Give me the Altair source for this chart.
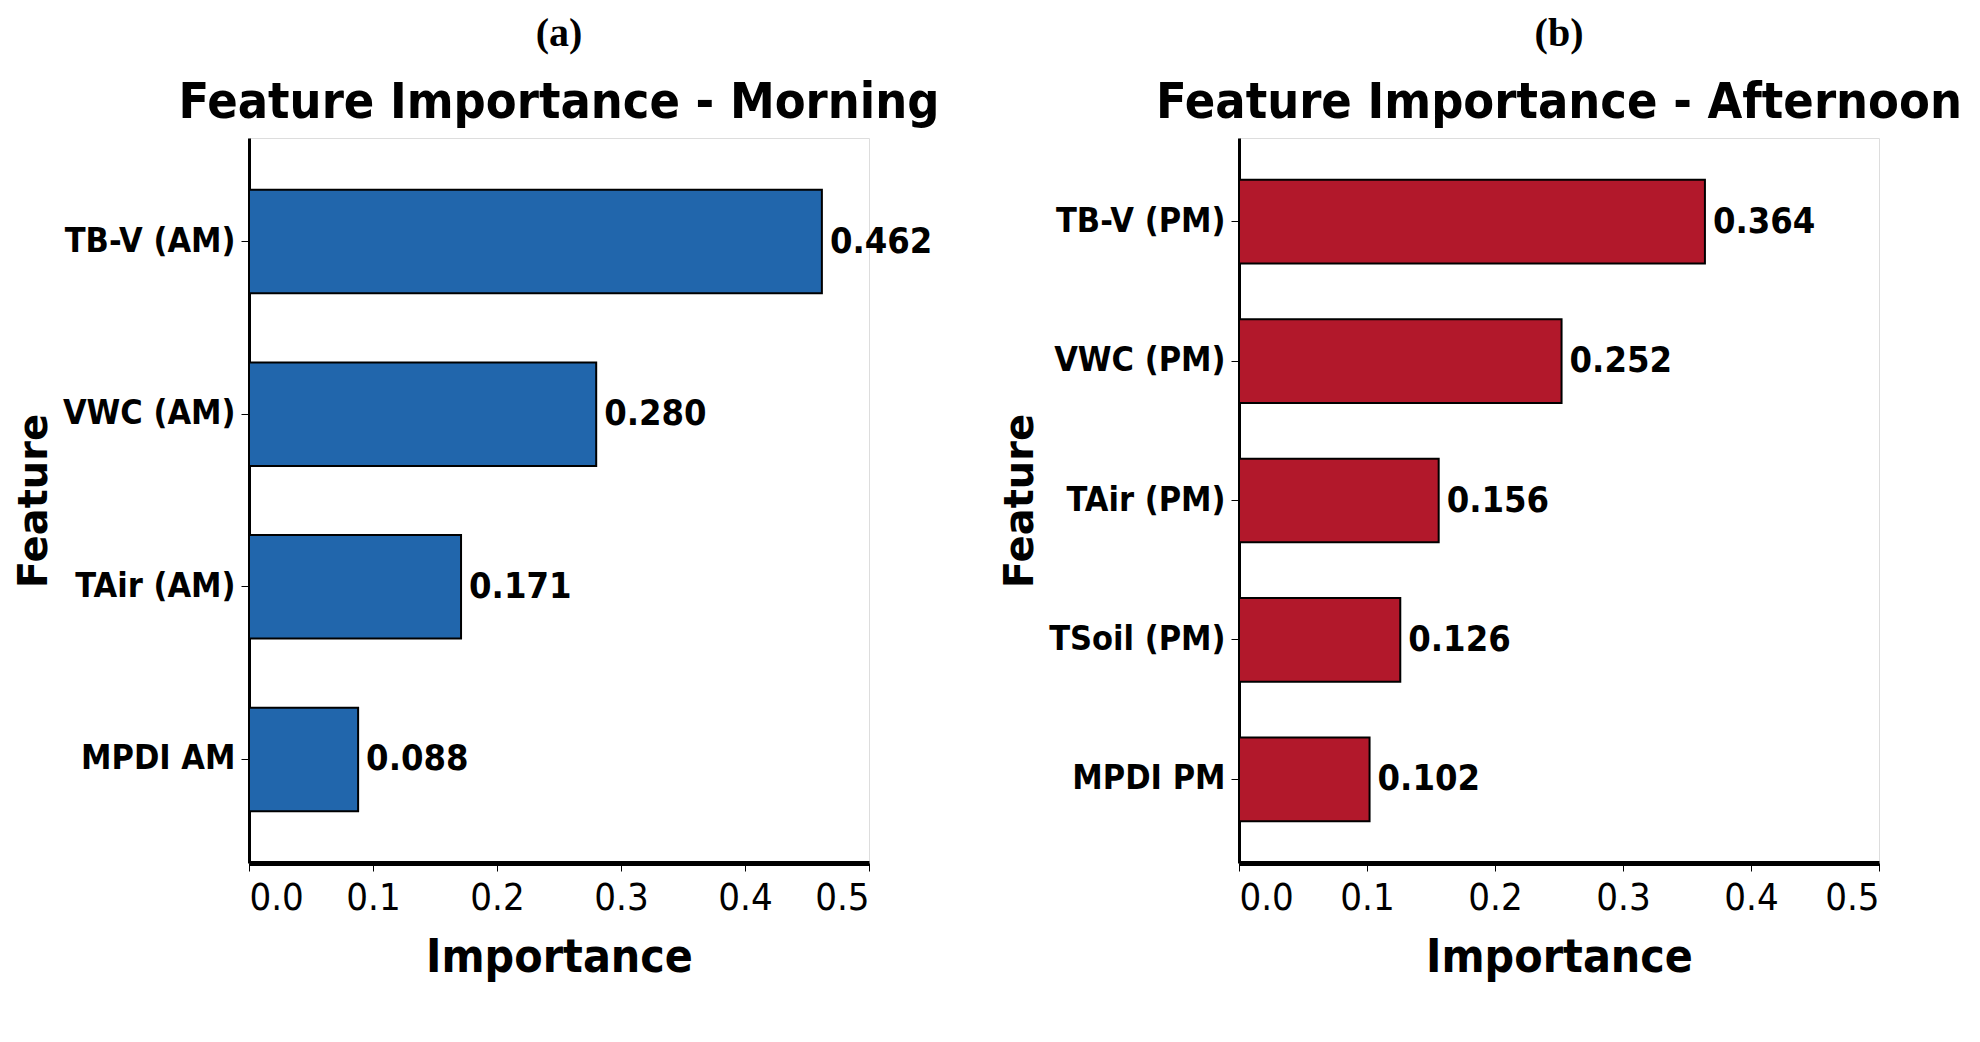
import altair as alt
import pandas as pd

am_features = ["TB-V (AM)", "VWC (AM)", "TAir (AM)", "MPDI AM"]
am_values = [0.462, 0.280, 0.171, 0.088]
pm_features = ["TB-V (PM)", "VWC (PM)", "TAir (PM)", "TSoil (PM)", "MPDI PM"]
pm_values = [0.364, 0.252, 0.156, 0.126, 0.102]
ticks = [0.0, 0.1, 0.2, 0.3, 0.4, 0.5]

COND = "DejaVu Sans Condensed"

def panel(feats, vals, color, letter, title, width):
    df = pd.DataFrame({"Feature": feats, "Importance": vals,
                       "lab": [f"{v:.3f}" for v in vals]})
    y = alt.Y("Feature:N", sort=feats,
              scale=alt.Scale(paddingInner=0.4, paddingOuter=0.3),
              axis=alt.Axis(title="Feature", titleFont="DejaVu Sans", titleFontSize=40,
                            titleFontWeight="bold", titlePadding=8, labelLimit=0,
                            labelFont=COND, labelFontSize=34, labelFontWeight="bold",
                            labelColor="black", tickColor="black", tickSize=8,
                            domainColor="black", domainWidth=3, labelPadding=6))
    x = alt.X("Importance:Q", scale=alt.Scale(domain=[0, 0.5]),
              axis=alt.Axis(values=ticks, format=".1f", title="Importance",
                            titleFont=COND, titleFontSize=46, titleFontWeight="bold",
                            titleColor="black", labelFont=COND, labelFontSize=38,
                            labelColor="black", labelFontWeight="normal",
                            tickColor="black", tickSize=8, domainColor="black",
                            domainWidth=5, grid=False, titlePadding=18, labelPadding=8))
    bars = alt.Chart(df).mark_bar(color=color, stroke="black", strokeWidth=2).encode(x=x, y=y)
    text = alt.Chart(df).mark_text(align="left", dx=8, font=COND, fontSize=36,
                                   fontWeight="bold", color="black").encode(
        x="Importance:Q", y=alt.Y("Feature:N", sort=feats), text="lab:N")
    return (bars + text).properties(
        width=width, height=725,
        title=alt.TitleParams(text=letter, subtitle=title, font="Liberation Serif",
                              fontSize=40, fontWeight="bold", color="black",
                              subtitleFont=COND, subtitleFontSize=50,
                              subtitleFontWeight="bold", subtitleColor="black",
                              subtitlePadding=24, offset=10, anchor="middle"))

left = panel(am_features, am_values, "#2166ac", "(a)", "Feature Importance - Morning", 620)
right = panel(pm_features, pm_values, "#b2182b", "(b)", "Feature Importance - Afternoon", 640)

chart = alt.hconcat(left, right, spacing=60).configure_view(strokeWidth=0).configure(
    background="white")
chart.save("out.html", embed_options={"renderer": "svg", "actions": False})
